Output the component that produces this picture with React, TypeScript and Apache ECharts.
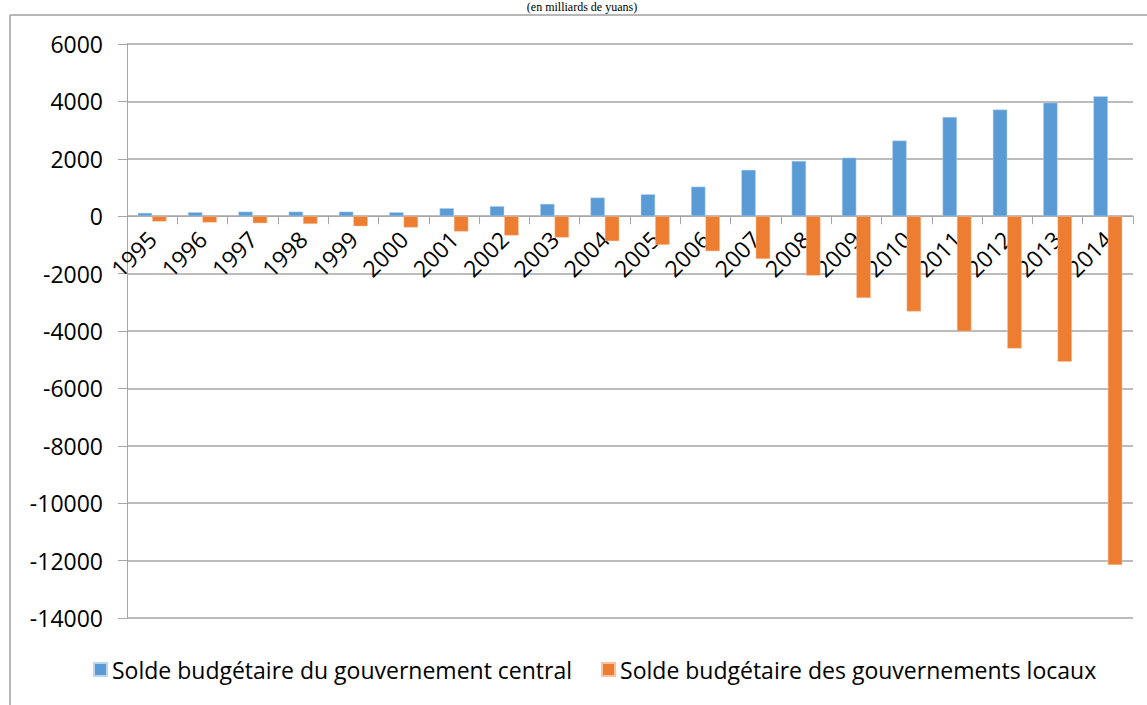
import React, { useEffect, useRef } from "react";
import * as echarts from "echarts";

const years = ["1995","1996","1997","1998","1999","2000","2001","2002","2003","2004","2005","2006","2007","2008","2009","2010","2011","2012","2013","2014"];
const central = [115, 140, 160, 160, 160, 140, 280, 350, 430, 650, 765, 1030, 1615, 1925, 2040, 2635, 3460, 3715, 3960, 4180];
const local = [-185, -220, -245, -270, -350, -395, -535, -675, -745, -870, -1000, -1220, -1490, -2070, -2850, -3320, -4010, -4610, -5075, -12150];
const seriesNames = ["Solde budgétaire du gouvernement central", "Solde budgétaire des gouvernements locaux"];
const titleText = "(en milliards de yuans)";

const FONT = "'Open Sans', sans-serif";
const FS = 23;

export default function App() {
  const ref = useRef<HTMLDivElement>(null);
  useEffect(() => {
    document.body.style.margin = "0";
    const chart = echarts.init(ref.current!, null, { renderer: "svg" });
    const gridTop = 44;
    const gridBottom = 87;
    const gridH = 705 - gridTop - gridBottom;
    const zeroOffset = -(gridH * 14000) / 20000;
    chart.setOption({
      animation: false,
      backgroundColor: "#ffffff",
      textStyle: { fontFamily: FONT },
      grid: { left: 127, right: 14, top: gridTop, bottom: gridBottom, containLabel: false },
      legend: {
        top: 653,
        left: 88,
        itemWidth: 13,
        itemHeight: 13,
        itemGap: 29,
        icon: "rect",
        textStyle: { fontFamily: FONT, fontSize: FS, color: "#000" },
        data: seriesNames,
      },
      graphic: [
        { type: "line", shape: { x1: 10, y1: 15, x2: 1147, y2: 15 }, style: { stroke: "#a0a0a0", lineWidth: 1.5 } },
        { type: "line", shape: { x1: 10, y1: 15, x2: 10, y2: 705 }, style: { stroke: "#a0a0a0", lineWidth: 1.5 } },
        {
          type: "text",
          x: 582,
          y: 1,
          style: { text: titleText, font: "12px 'Liberation Serif', serif", fill: "#000", align: "center", verticalAlign: "top" },
        },
      ],
      xAxis: {
        type: "category",
        data: years,
        offset: zeroOffset,
        axisLine: { onZero: false, lineStyle: { color: "#a6a6a6", width: 1 } },
        axisTick: { show: true, length: 8, lineStyle: { color: "#a6a6a6" } },
        axisLabel: { rotate: 45, margin: 19, fontSize: FS, color: "#000", fontFamily: FONT, interval: 0 },
        splitLine: { show: false },
      },
      yAxis: {
        type: "value",
        min: -14000,
        max: 6000,
        interval: 2000,
        axisLine: { show: true, lineStyle: { color: "#a6a6a6", width: 1 } },
        axisTick: { show: true, length: 9, lineStyle: { color: "#a6a6a6" } },
        axisLabel: { margin: 24, fontSize: FS, color: "#000", fontFamily: FONT, formatter: (v: number) => String(v) },
        splitLine: { show: true, lineStyle: { color: "#a6a6a6", width: 1.5 } },
      },
      series: [
        {
          name: seriesNames[0],
          type: "bar",
          data: central,
          barWidth: 14.4,
          barGap: "0%",
          itemStyle: { color: "#5B9BD5", borderColor: "#bcd6ee", borderWidth: 0.5 },
        },
        {
          name: seriesNames[1],
          type: "bar",
          data: local,
          barWidth: 14.4,
          barGap: "0%",
          itemStyle: { color: "#ED7D31", borderColor: "#f7c4a1", borderWidth: 0.5 },
        },
      ],
    });
    return () => chart.dispose();
  }, []);
  return <div ref={ref} style={{ width: 1147, height: 705 }} />;
}
